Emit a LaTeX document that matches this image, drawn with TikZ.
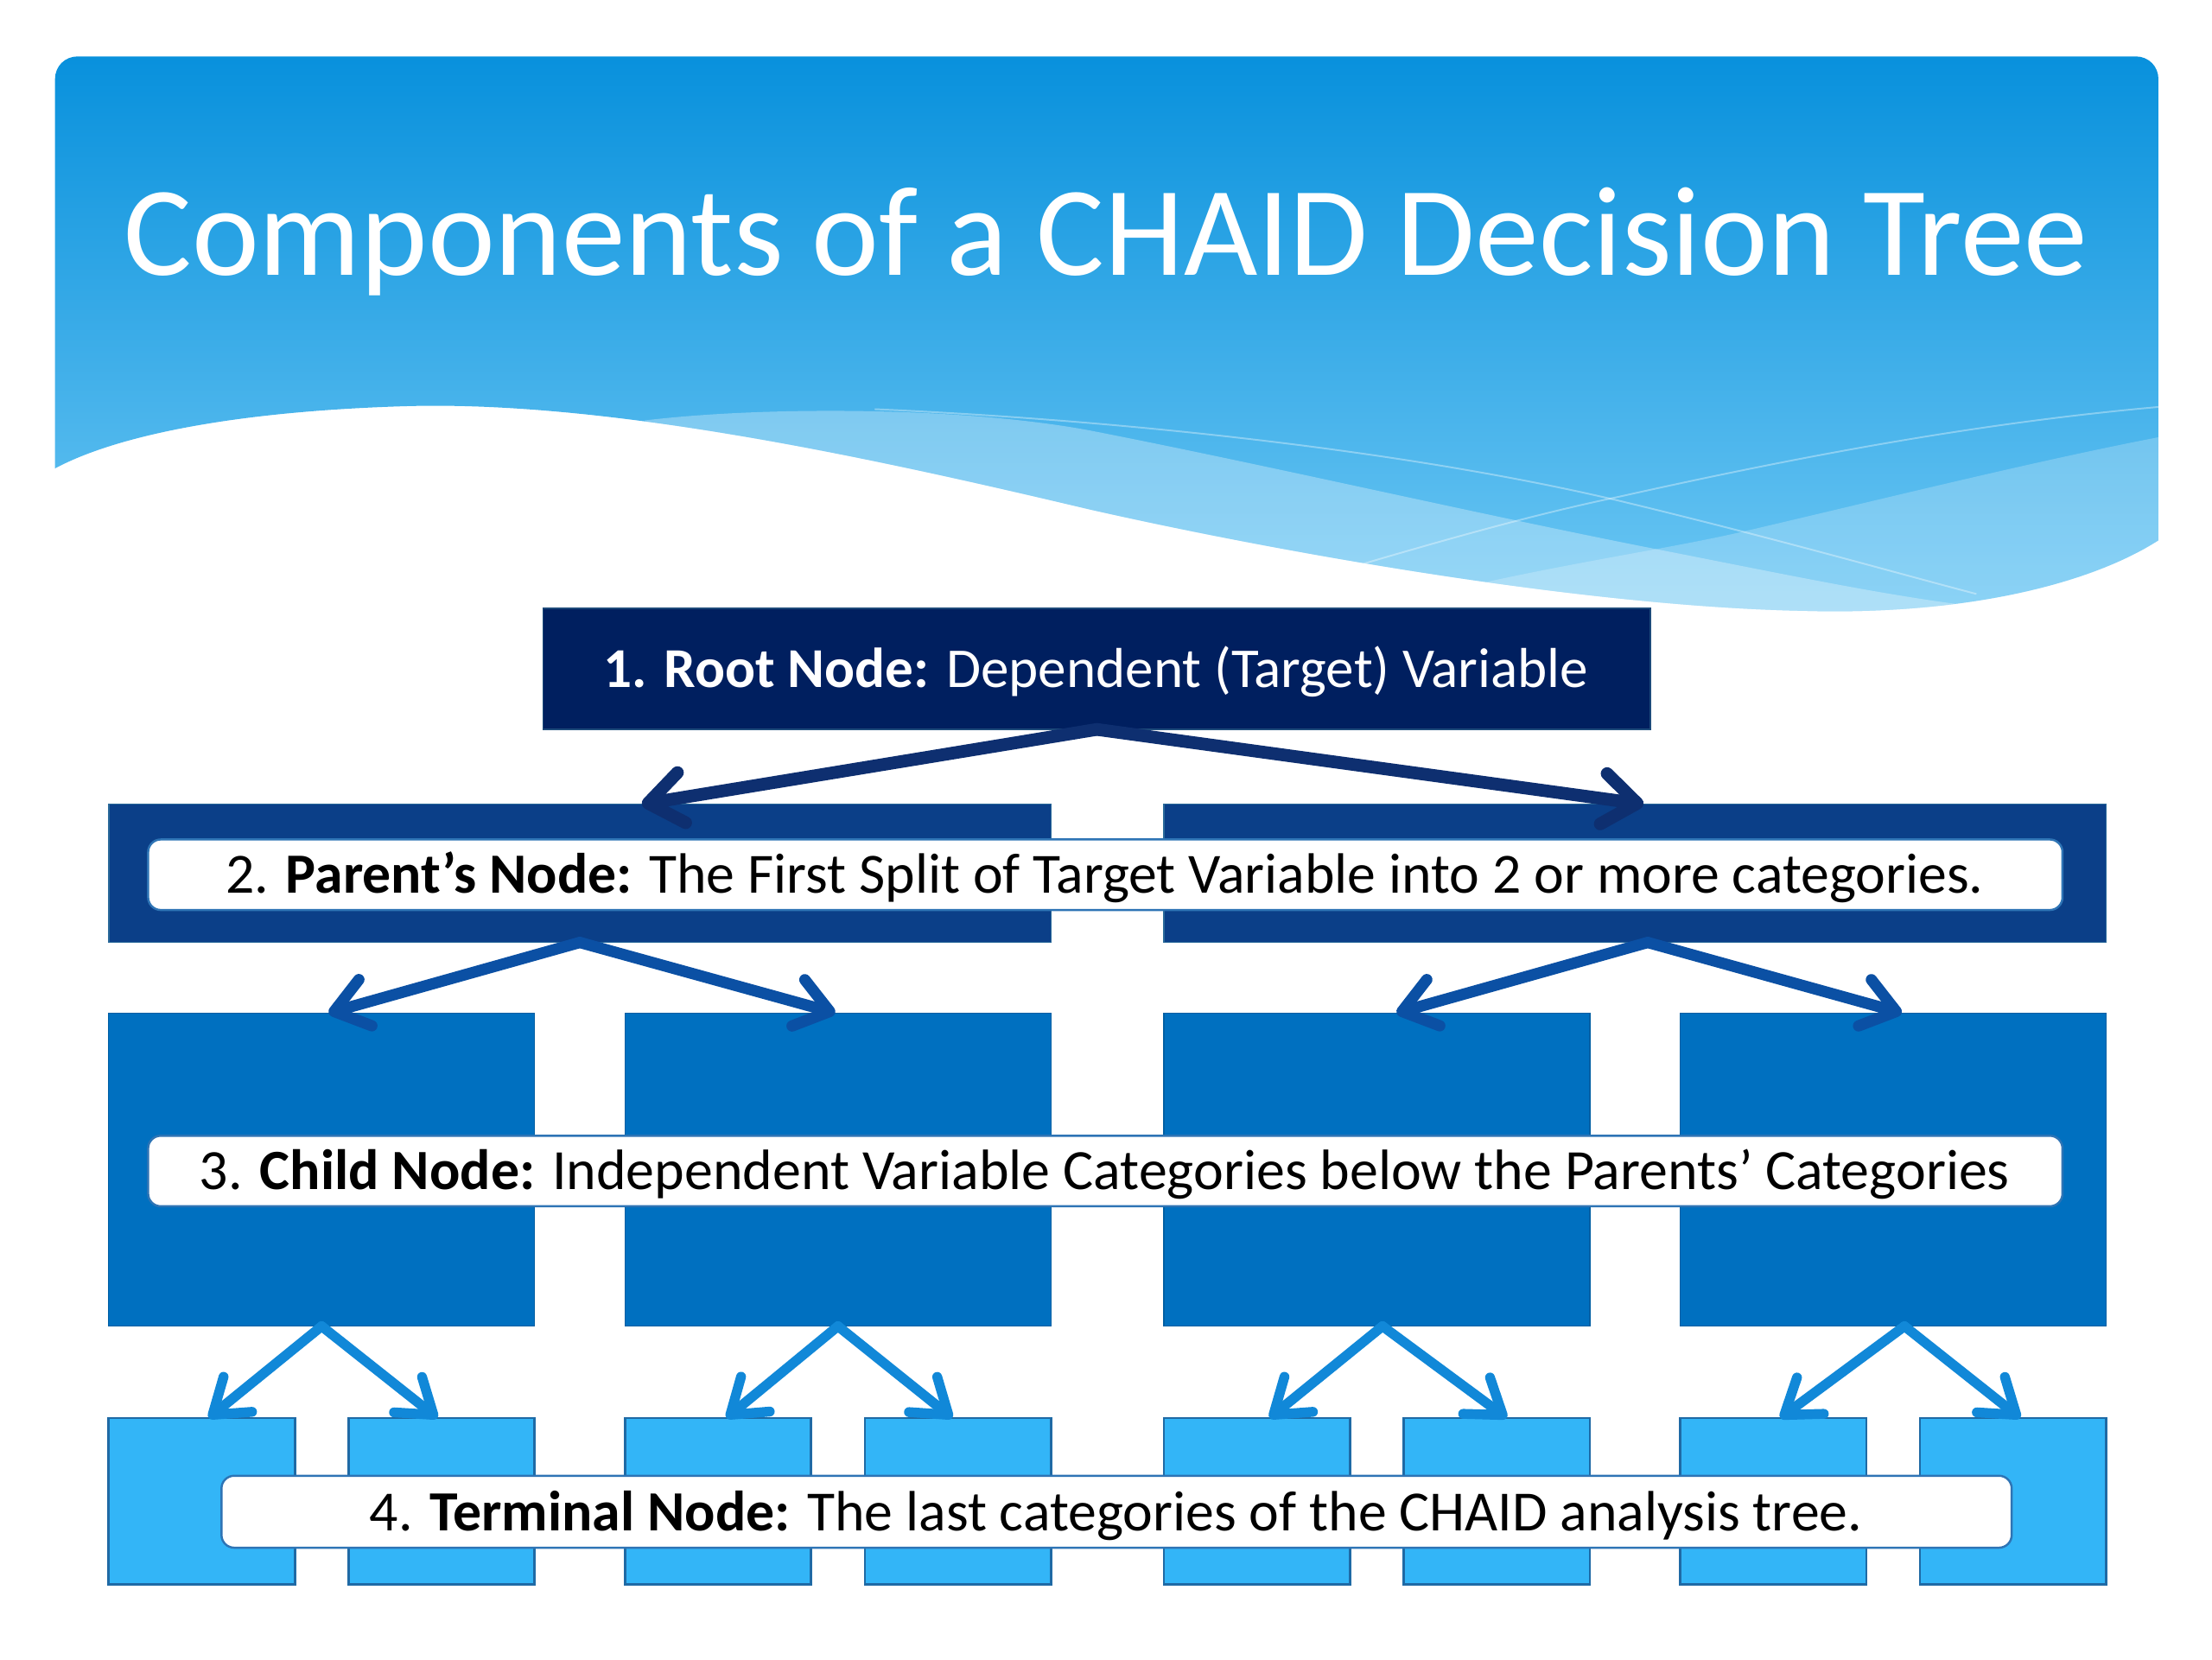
\documentclass[tikz,border=0pt]{standalone}
\usepackage{fontspec}
\setmainfont{Carlito}
\usetikzlibrary{arrows.meta,calc}
\definecolor{hdtop}{HTML}{0790DC}
\definecolor{hdbot}{HTML}{6EC8F4}
\definecolor{rootfill}{HTML}{001F5F}
\definecolor{rootedge}{HTML}{1D4A7A}
\definecolor{parfill}{HTML}{0B3F88}
\definecolor{paredge}{HTML}{2A6A9A}
\definecolor{chfill}{HTML}{0070C0}
\definecolor{tmfill}{HTML}{33B5F7}
\definecolor{tmedge}{HTML}{1F6AA5}
\definecolor{rootarrow}{HTML}{0E2F70}
\definecolor{pararrow}{HTML}{0B50A4}
\definecolor{charrow}{HTML}{1188D8}
\definecolor{lbledge}{HTML}{2E74B5}
\newcommand{\fitto}[2]{\resizebox{#1}{!}{#2}}
\tikzset{
  box/.style={inner sep=0pt, outer sep=0pt, anchor=north west},
  rootbox/.style={box, fill=rootfill, draw=rootedge, line width=1pt},
  parbox/.style={box, fill=parfill, draw=paredge, line width=1pt},
  chbox/.style={box, fill=chfill, draw=chfill!85!black, line width=0.8pt},
  tmbox/.style={box, fill=tmfill, draw=tmedge, line width=1.6pt},
  lblbox/.style={box, fill=white, draw=lbledge, line width=1.5pt, rounded corners=9pt},
  lbltext/.style={anchor=base, inner sep=0pt, text=black, font=\fontsize{40}{48}\selectfont},
  rarrow/.style={draw=rootarrow, line width=9pt, line cap=round, -{Straight Barb[round,length=24pt,width=36pt]}},
  parrow/.style={draw=pararrow, line width=8pt, line cap=round, -{Straight Barb[round,length=23pt,width=34pt]}},
  carrow/.style={draw=charrow, line width=7pt, line cap=round, -{Straight Barb[round,length=23pt,width=32pt]}},
}
\begin{document}
\begin{tikzpicture}[x=1pt,y=-1pt]
\useasboundingbox (0,0) rectangle (1568,1176);
\fill[white] (0,0) rectangle (1568,1176);

% ---------- header banner ----------
\begin{scope}
\clip (39,332) -- (39,56) .. controls (39,47) and (46,40) .. (55,40) -- (1514,40)
  .. controls (1523,40) and (1530,47) .. (1530,56) -- (1530,383)
  .. controls (1480,415) and (1390,436) .. (1280,433)
  .. controls (1120,430) and (900,390) .. (772,361)
  .. controls (620,325) and (430,283) .. (284,288)
  .. controls (160,292) and (80,310) .. (39,332) -- cycle;
\shade[top color=hdtop, bottom color=hdbot] (30,35) rectangle (1540,440);
\fill[white, opacity=0.30] (457,298) .. controls (540,288) and (680,288) .. (772,305)
  .. controls (900,330) and (1050,365) .. (1178,390)
  .. controls (1280,410) and (1350,425) .. (1420,432) -- (1420,520) -- (457,520) -- cycle;
\fill[white, opacity=0.22] (1000,425) .. controls (1100,400) and (1180,390) .. (1239,376)
  .. controls (1350,350) and (1450,325) .. (1540,308) -- (1540,520) -- (1000,520) -- cycle;
\draw[white, opacity=0.35, line width=1.2pt] (620,290) .. controls (800,298) and (1000,320) .. (1148,355)
  .. controls (1260,382) and (1340,405) .. (1401,421);
\draw[white, opacity=0.35, line width=1.2pt] (965,400) .. controls (1050,375) and (1100,362) .. (1148,352)
  .. controls (1300,318) and (1420,298) .. (1535,288);
\end{scope}
\node[anchor=base, inner sep=0pt, text=white, font=\fontsize{90}{100}\selectfont] (title) at (784,195)
  {\fitto{1392pt}{Components of a CHAID Decision Tree}};

% ---------- level 1: root ----------
\node[rootbox, minimum width=785pt, minimum height=86pt] (root) at (385,431) {};
\node[anchor=base, inner sep=0pt, text=white, font=\fontsize{40}{48}\selectfont] (roottext) at (777,487)
  {\fitto{698pt}{\textbf{1. Root Node:} Dependent (Target) Variable}};

% ---------- level 2: parents ----------
\node[parbox, minimum width=668pt, minimum height=98pt] (pL) at (77,570) {};
\node[parbox, minimum width=668pt, minimum height=98pt] (pR) at (825,570) {};

% ---------- level 3: children ----------
\node[chbox, minimum width=302pt, minimum height=222pt] (c1) at (77,718) {};
\node[chbox, minimum width=302pt, minimum height=222pt] (c2) at (443,718) {};
\node[chbox, minimum width=302pt, minimum height=222pt] (c3) at (825,718) {};
\node[chbox, minimum width=302pt, minimum height=222pt] (c4) at (1191,718) {};

% ---------- level 4: terminals ----------
\node[tmbox, minimum width=132pt, minimum height=118pt] (t1) at (77,1005) {};
\node[tmbox, minimum width=132pt, minimum height=118pt] (t2) at (247,1005) {};
\node[tmbox, minimum width=132pt, minimum height=118pt] (t3) at (443,1005) {};
\node[tmbox, minimum width=132pt, minimum height=118pt] (t4) at (613,1005) {};
\node[tmbox, minimum width=132pt, minimum height=118pt] (t5) at (825,1005) {};
\node[tmbox, minimum width=132pt, minimum height=118pt] (t6) at (995,1005) {};
\node[tmbox, minimum width=132pt, minimum height=118pt] (t7) at (1191,1005) {};
\node[tmbox, minimum width=132pt, minimum height=118pt] (t8) at (1361,1005) {};

% ---------- label boxes ----------
\node[lblbox, minimum width=1357pt, minimum height=50pt] (lp) at (105,595) {};
\node[lbltext] (lptext) at (783,633)
  {\fitto{1246pt}{2. \textbf{Parent’s Node:} The First Split of Target Variable into 2 or more categories.}};
\node[lblbox, minimum width=1357pt, minimum height=50pt] (lc) at (105,805) {};
\node[lbltext] (lctext) at (783,843)
  {\fitto{1283pt}{3. \textbf{Child Node:} Independent Variable Categories below the Parents’ Categories}};
\node[lblbox, minimum width=1269pt, minimum height=51pt] (lt) at (157,1046) {};
\node[lbltext] (lttext) at (791,1085)
  {\fitto{1058pt}{4. \textbf{Terminal Node:} The last categories of the CHAID analysis tree.}};

% ---------- connectors ----------
\draw[rarrow] (root.south) -- ([xshift=44pt]pL.north);
\draw[rarrow] (root.south) -- ([xshift=6pt]pR.north);

\draw[parrow] (pL.south) -- ([xshift=5pt]c1.north);
\draw[parrow] (pL.south) -- ([xshift=-2pt]c2.north);
\draw[parrow] ([xshift=9pt]pR.south) -- ([xshift=14pt]c3.north);
\draw[parrow] ([xshift=9pt]pR.south) -- ([xshift=6pt]c4.north);

\draw[carrow] (c1.south) -- ([xshift=5pt]t1.north);
\draw[carrow] (c1.south) -- ([xshift=-3pt]t2.north);
\draw[carrow] (c2.south) -- ([xshift=6pt]t3.north);
\draw[carrow] (c2.south) -- ([xshift=-4pt]t4.north);
\draw[carrow] ([xshift=4pt]c3.south) -- ([xshift=9pt]t5.north);
\draw[carrow] ([xshift=4pt]c3.south) -- ([xshift=7pt]t6.north);
\draw[carrow] ([xshift=8pt]c4.south) -- ([xshift=5pt]t7.north);
\draw[carrow] ([xshift=8pt]c4.south) -- ([xshift=5pt]t8.north);
\end{tikzpicture}
\end{document}
